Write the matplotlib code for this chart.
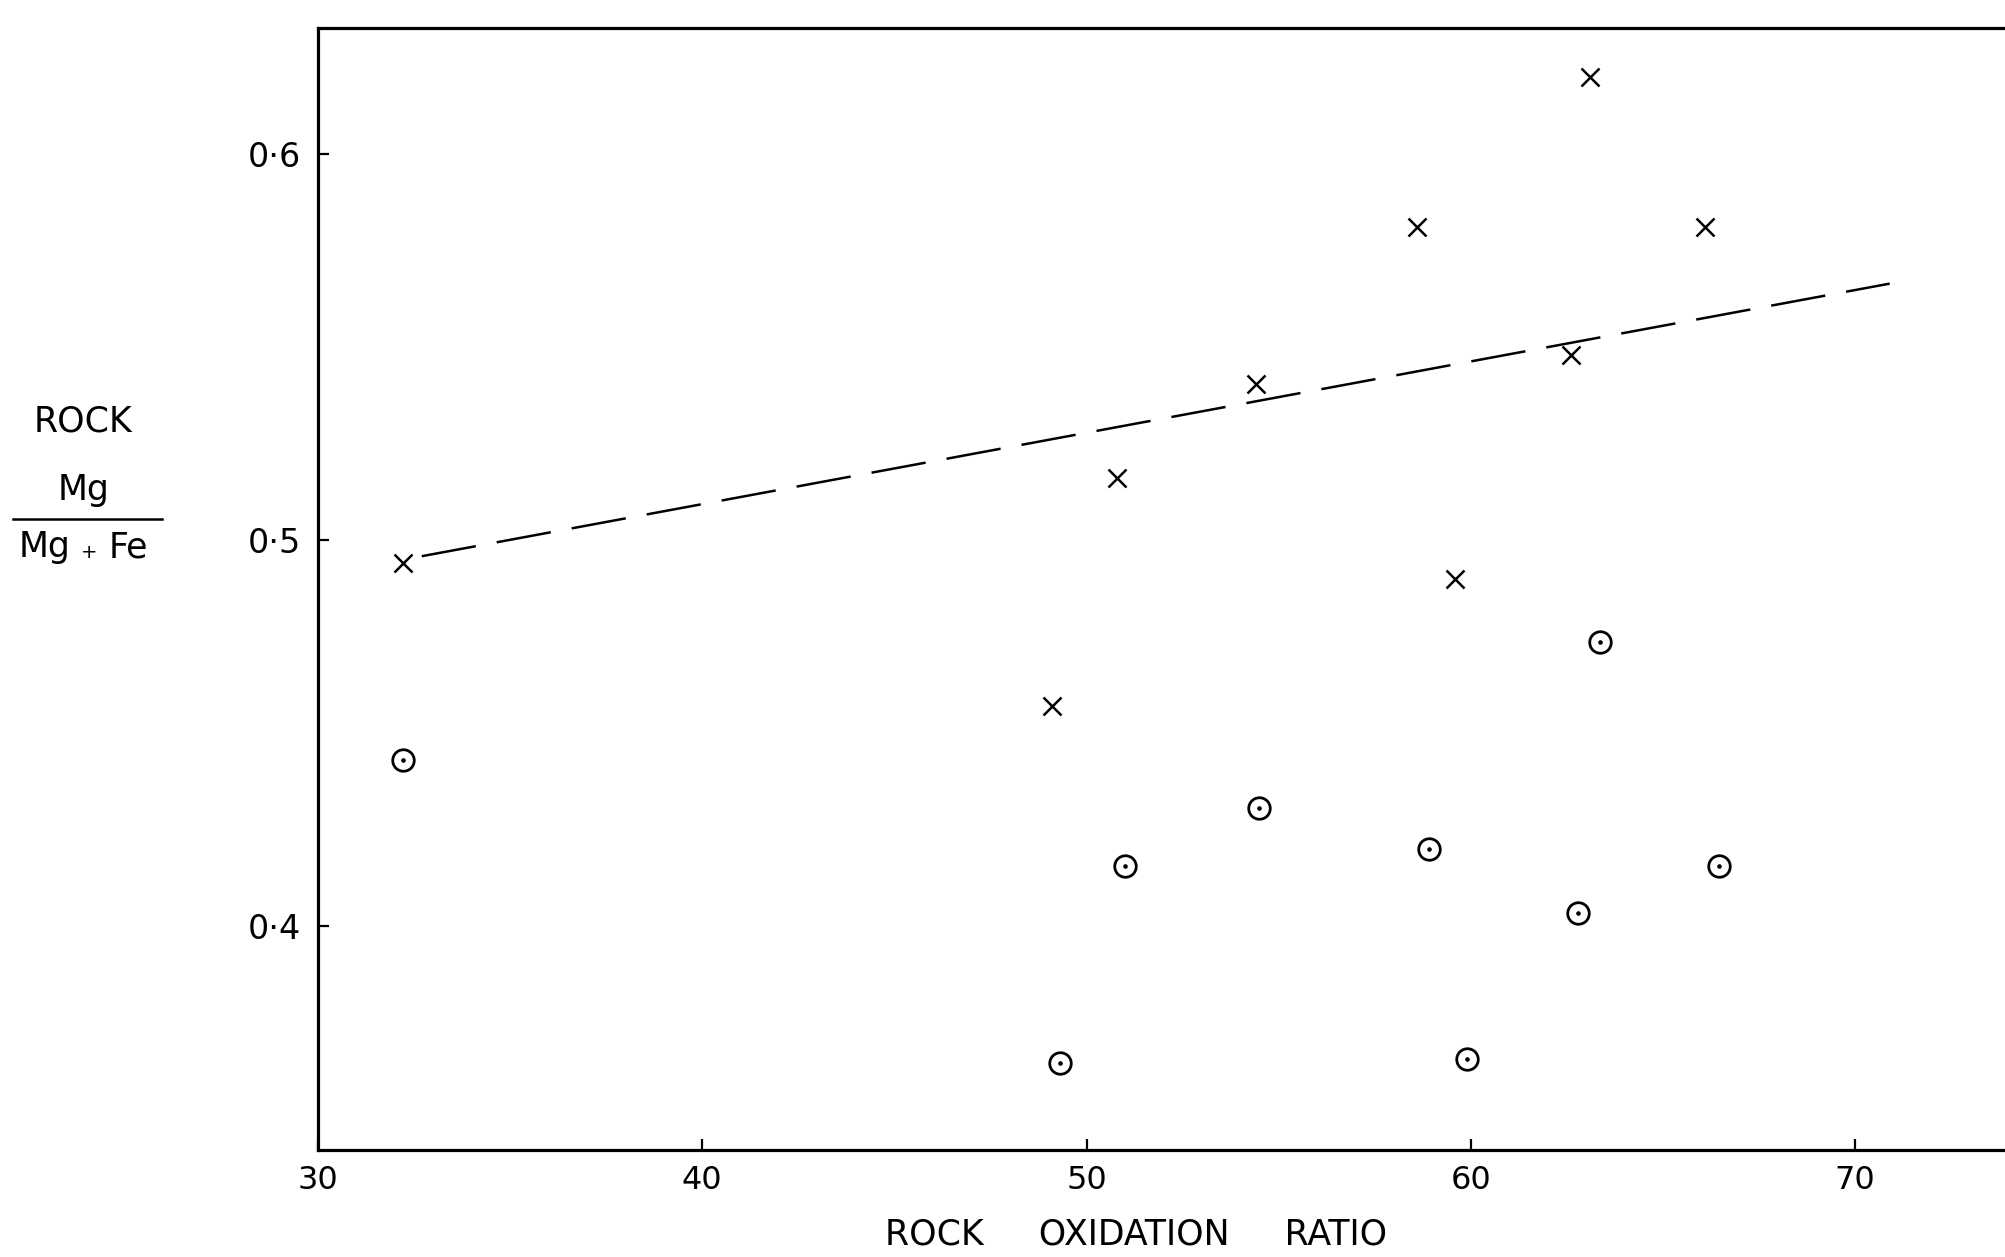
import matplotlib
matplotlib.use("Agg")
import matplotlib.pyplot as plt
from matplotlib.lines import Line2D

"""
rock Mg/(Mg+Fe) against rock oxidation ratio, with the fitted trend for the crosses
"""

# crosses
cross_x = [32.2, 49.1, 50.8, 54.4, 58.6, 59.6, 62.6, 63.1, 66.1]
cross_y = [0.494, 0.457, 0.516, 0.5405, 0.581, 0.490, 0.548, 0.620, 0.581]

# dotted circles
circle_x = [32.2, 49.3, 51.0, 54.5, 58.9, 59.9, 62.8, 63.35, 66.45]
circle_y = [0.443, 0.3645, 0.4155, 0.4305, 0.420, 0.3655, 0.4035, 0.4735, 0.4155]

# dashed trend line, end points
trend_x = [32.7, 70.9]
trend_y = [0.4958, 0.5664]

x_ticks = [30, 40, 50, 60, 70]
x_tick_labels = ["30", "40", "50", "60", "70"]
y_ticks = [0.4, 0.5, 0.6]
y_tick_labels = ["0·4", "0·5", "0·6"]


def plot_ratio():
    plt.rcParams['font.family'] = ['DejaVu Sans']
    fig = plt.figure(figsize=(20.05, 12.57), dpi=100)
    ax = fig.add_axes([0.1586, 0.0851, 1 - 0.1586, 0.9777 - 0.0851])

    ax.plot(trend_x, trend_y, color="black", lw=1.8, dashes=(22, 8.5))
    ax.plot(cross_x, cross_y, "x", color="black", ms=12.5, mew=1.8)
    ax.plot(circle_x, circle_y, "o", mfc="none", mec="black", ms=15.5, mew=2)
    ax.plot(circle_x, circle_y, "o", color="black", ms=2.3)

    ax.set_xlim(30, 73.9)
    ax.set_ylim(0.342, 0.6326)

    # open frame on the right
    ax.spines["right"].set_visible(False)
    for side in ["left", "top", "bottom"]:
        ax.spines[side].set_linewidth(2.3)

    ax.set_xticks(x_ticks)
    ax.set_xticklabels(x_tick_labels)
    ax.set_yticks(y_ticks)
    ax.set_yticklabels(y_tick_labels)
    ax.tick_params(direction="in", length=8, width=1.6, pad=11)
    ax.tick_params(axis="x", labelsize=23)
    ax.tick_params(axis="y", labelsize=24, pad=12)

    fig.text(0.5666, 0.018, "ROCK     OXIDATION     RATIO", fontsize=25,
             ha="center", va="center")

    # y label written as a fraction
    fig.text(83 / 2005, 1 - 422 / 1257, "ROCK", fontsize=25, ha="center", va="center")
    fig.text(84 / 2005, 1 - 490 / 1257, "Mg", fontsize=25, ha="center", va="center")
    fig.add_artist(Line2D([13 / 2005, 162 / 2005], [1 - 519 / 1257, 1 - 519 / 1257],
                          color="black", lw=1.8, transform=fig.transFigure))
    fig.text(45 / 2005, 1 - 547 / 1257, "Mg", fontsize=25, ha="center", va="center")
    fig.text(89 / 2005, 1 - 552 / 1257, "+", fontsize=14, ha="center", va="center")
    fig.text(128 / 2005, 1 - 547 / 1257, "Fe", fontsize=25, ha="center", va="center")

    fig.savefig("out.png", dpi=100)


if __name__ == "__main__":
    plot_ratio()
